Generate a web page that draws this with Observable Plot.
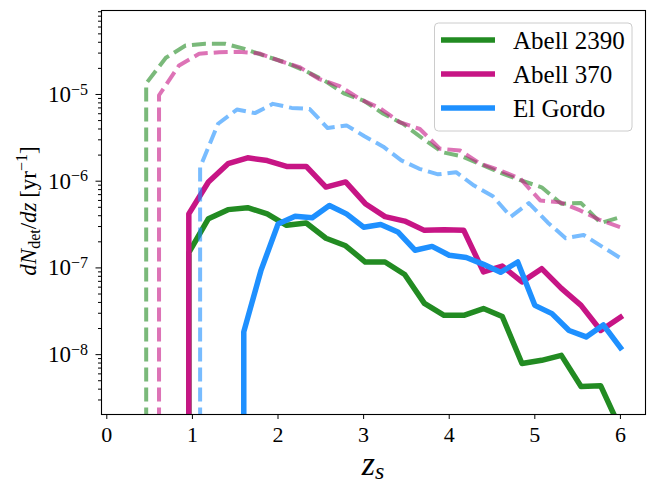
<!DOCTYPE html>
<html><head><meta charset="utf-8">
<script src="https://cdn.jsdelivr.net/npm/d3@7"></script>
<script src="https://cdn.jsdelivr.net/npm/@observablehq/plot@0.6"></script>
<style>
body{margin:0;background:#fff} svg{display:block}
</style>
</head><body><div id="chart"></div>
<script>
const clusters = ["Abell 2390", "Abell 370", "El Gordo"];
const colors = ["forestgreen", "mediumvioletred", "dodgerblue"];

const zSolidA = [0.958,0.958,1.187,1.416,1.645,1.874,2.10,2.33,2.56,2.79,3.02,3.25,3.48,3.71,3.94,4.17,4.40,4.62,4.85,5.08,5.31,5.54,5.77,6.0];
const a2390Solid = [1e-12,1.5e-7,3.7e-7,4.7e-7,4.95e-7,4.2e-7,3.1e-7,3.3e-7,2.2e-7,1.8e-7,1.17e-7,1.17e-7,8.4e-8,3.9e-8,2.84e-8,2.84e-8,3.4e-8,2.75e-8,7.9e-9,8.6e-9,9.8e-9,4.3e-9,4.37e-9,1.4e-9];
const a370Solid = [1e-12,4.2e-7,9.8e-7,1.59e-6,1.86e-6,1.73e-6,1.48e-6,1.48e-6,8.55e-7,9.8e-7,5.5e-7,3.9e-7,3.47e-7,2.71e-7,2.75e-7,2.71e-7,9.0e-8,1.05e-7,6.9e-8,9.8e-8,5.8e-8,3.7e-8,1.9e-8,2.7e-8];

const zDashA2390 = [0.46,0.46,0.69,0.92,1.15,1.38,1.61,1.84,2.08,2.31,2.54,2.77,3.0,3.23,3.46,3.69,3.92,4.15,4.38,4.61,4.84,5.08,5.31,5.54,5.77,6.0];
const a2390Dash = [1e-12,1.34e-5,2.65e-5,3.67e-5,3.84e-5,3.84e-5,3.36e-5,2.8e-5,2.35e-5,1.89e-5,1.45e-5,1.03e-5,8.5e-6,6.0e-6,4.6e-6,3.1e-6,2.16e-6,1.93e-6,1.55e-6,1.24e-6,1.02e-6,8.5e-7,5.5e-7,5.6e-7,3.3e-7,3.86e-7];

const zDashA370 = [0.61,0.61,0.844,1.079,1.313,1.547,1.782,2.016,2.25,2.485,2.72,2.953,3.188,3.42,3.657,3.89,4.126,4.36,4.594,4.83,5.063,5.297,5.53,5.766,6.0];
const a370Dash = [1e-12,9.8e-6,2.16e-5,2.95e-5,3.07e-5,3.1e-5,2.97e-5,2.45e-5,2.07e-5,1.5e-5,1.25e-5,8.9e-6,7.0e-6,4.8e-6,4.0e-6,2.37e-6,2.26e-6,1.6e-6,1.33e-6,1.07e-6,6.0e-7,5.7e-7,4.6e-7,3.55e-7,2.95e-7];

const zSolidEG = [1.6,1.6,1.8,2.0,2.2,2.4,2.6,2.8,3.0,3.2,3.4,3.6,3.8,4.0,4.2,4.4,4.6,4.8,5.0,5.2,5.4,5.6,5.8,6.0];
const egSolid = [1e-12,1.83e-8,9.3e-8,3.2e-7,3.94e-7,3.8e-7,5.25e-7,4.2e-7,2.95e-7,3.17e-7,2.6e-7,1.6e-7,1.77e-7,1.4e-7,1.32e-7,1.1e-7,8.9e-8,1.17e-7,3.7e-8,2.97e-8,1.9e-8,1.6e-8,2.2e-8,1.2e-8];

const zDashEG = [1.09,1.09,1.30,1.52,1.73,1.94,2.16,2.37,2.58,2.80,3.01,3.23,3.44,3.65,3.87,4.08,4.29,4.51,4.72,4.93,5.15,5.36,5.57,5.79,6.0];
const egDash = [1e-12,1.45e-6,4.6e-6,6.7e-6,6.1e-6,7.8e-6,7.0e-6,6.8e-6,4.1e-6,4.4e-6,3.3e-6,2.5e-6,1.74e-6,1.39e-6,1.2e-6,1.27e-6,8.9e-7,6.7e-7,3.9e-7,5.6e-7,3.35e-7,2.2e-7,2.4e-7,1.75e-7,1.3e-7];

const xTicks = [0, 1, 2, 3, 4, 5, 6];
const yMajorTicks = [1e-8, 1e-7, 1e-6, 1e-5];

const yDomain = [2.04e-9, 9.3e-5];
const yMinorTicks = [];
for (let k = -9; k <= -5; k++) for (let m = 2; m <= 9; m++) {
  const v = m * Math.pow(10, k);
  if (v >= yDomain[0] && v <= yDomain[1]) yMinorTicks.push(v);
}

const series = [
  {ci: 0, dashed: false, z: zSolidA, v: a2390Solid},
  {ci: 0, dashed: true, z: zDashA2390, v: a2390Dash},
  {ci: 1, dashed: false, z: zSolidA, v: a370Solid},
  {ci: 1, dashed: true, z: zDashA370, v: a370Dash},
  {ci: 2, dashed: false, z: zSolidEG, v: egSolid},
  {ci: 2, dashed: true, z: zDashEG, v: egDash}
];

const FONT = "Liberation Serif";

const lineMarks = series.map(s => {
  const rows = s.z.map((z, i) => ({z, v: s.v[i]}));
  return Plot.line(rows, {
    x: "z", y: "v",
    stroke: colors[s.ci],
    strokeWidth: s.dashed ? 4 : 5.5,
    strokeOpacity: s.dashed ? 0.6 : 1,
    strokeDasharray: s.dashed ? "14,6" : null,
    strokeLinejoin: "round",
    strokeLinecap: s.dashed ? "butt" : "square",
    clip: true
  });
});

const plot = Plot.plot({
  width: 652, height: 485,
  marginLeft: 101, marginRight: 7, marginTop: 10, marginBottom: 71,
  style: {background: "white", color: "black"},
  x: {domain: [-0.062, 6.293]},
  y: {type: "log", domain: yDomain},
  marks: [
    ...lineMarks,
    Plot.frame({stroke: "black", strokeWidth: 1.1}),
    Plot.axisX(xTicks, {tickSize: 5, tickPadding: 7, fontSize: 22, label: null, tickFormat: d => String(d)}),
    Plot.axisY(yMinorTicks, {tickSize: 3, tickFormat: () => "", label: null}),
    Plot.axisY(yMajorTicks, {tickSize: 5.5, tickPadding: 8, fontSize: 23, label: null,
      tickFormat: d => "10|" + Math.round(Math.log10(d))})
  ]
});

document.getElementById("chart").appendChild(plot);
const svg = d3.select(plot);
svg.attr("font-family", FONT);

svg.selectAll("text").each(function() {
  const el = d3.select(this);
  el.attr("font-family", FONT);
  const t = el.text();
  if (t.startsWith("10|")) {
    const e = t.slice(3).replace("-", "\u2212");
    el.text(null);
    el.append("tspan").text("10");
    el.append("tspan").attr("dy", "-0.45em").attr("font-size", 16).text(e);
  }
});

// y label
const yl = svg.append("text")
  .attr("transform", "translate(36,211) rotate(-90)")
  .attr("text-anchor", "middle").attr("font-family", FONT)
  .attr("font-size", 23).attr("fill", "black");
yl.append("tspan").attr("font-style", "italic").text("dN");
yl.append("tspan").attr("font-size", 16).attr("dy", 4).text("det");
yl.append("tspan").attr("dy", -4).text("/");
yl.append("tspan").attr("font-style", "italic").text("dz");
yl.append("tspan").text("\u2009[yr");
yl.append("tspan").attr("font-size", 16).attr("dy", -9).text("\u22121");
yl.append("tspan").attr("dy", 9).text("]");

// x label
const xl = svg.append("text")
  .attr("x", 373).attr("y", 475).attr("font-family", FONT)
  .attr("text-anchor", "middle")
  .attr("font-size", 34).attr("fill", "black");
xl.append("tspan").attr("font-style", "italic").text("z");
xl.append("tspan").attr("font-style", "italic").attr("font-size", 24).attr("dy", 4).text("s");

// legend
const lg = svg.append("g").attr("text-anchor", "start");
lg.append("rect").attr("x", 434.5).attr("y", 23).attr("width", 197.5).attr("height", 108)
  .attr("rx", 4).attr("fill", "white").attr("fill-opacity", 0.8)
  .attr("stroke", "#cccccc").attr("stroke-width", 1);
clusters.forEach((name, i) => {
  const y = 40 + i * 34;
  lg.append("line").attr("x1", 441).attr("x2", 495).attr("y1", y).attr("y2", y)
    .attr("stroke", colors[i]).attr("stroke-width", 5.5);
  lg.append("text").attr("x", 513).attr("y", y + 9).attr("text-anchor", "start")
    .attr("font-family", FONT)
    .attr("font-size", 25).attr("fill", "black").text(name);
});
</script>
</body></html>
